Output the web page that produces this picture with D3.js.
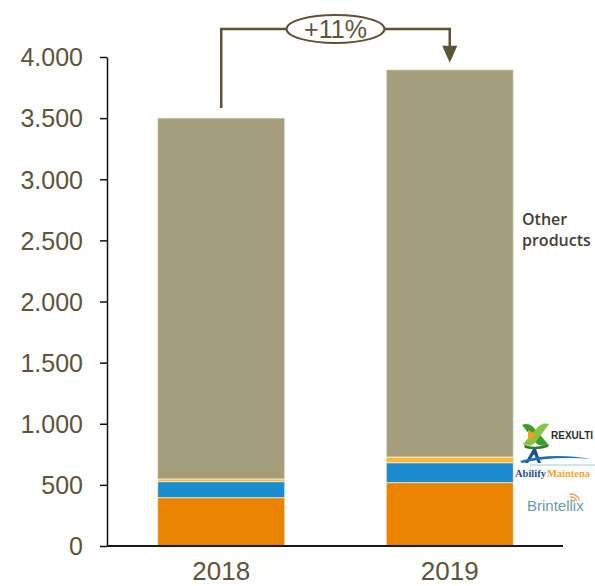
<!DOCTYPE html>
<html>
<head>
<meta charset="utf-8">
<script src="https://cdn.jsdelivr.net/npm/d3@7"></script>
<style>
  html, body { margin: 0; padding: 0; background: #fff; }
  svg { display: block; }
</style>
</head>
<body>
<svg id="chart" width="595" height="586"></svg>
<script>
// Sales by year, stacked by product (bottom to top)
const years = ["2018", "2019"];
const brintellix = [395, 518];
const abilifyMaintena = [131, 163];
const rexulti = [22, 47];
const otherProducts = [2953, 3167];
const yTicks = [0, 500, 1000, 1500, 2000, 2500, 3000, 3500, 4000];
const growthLabel = "+11%";

const seriesKeys = ["brintellix", "abilify", "rexulti", "other"];
const seriesColors = {
  brintellix: "#EA8400",
  abilify: "#1B8DCF",
  rexulti: "#FBB832",
  other: "#A59E7C"
};

const rows = years.map((y, i) => ({
  year: y,
  brintellix: brintellix[i],
  abilify: abilifyMaintena[i],
  rexulti: rexulti[i],
  other: otherProducts[i]
}));

const svg = d3.select("#chart");
const textColor = "#5E5439";
const lineColor = "#5C5236";

const x = d3.scaleBand()
  .domain(years)
  .range([107, 564])
  .paddingInner(0.444)
  .paddingOuter(0.222);

const y = d3.scaleLinear()
  .domain([0, 4000])
  .range([546, 57]);

const locale = d3.formatLocale({ decimal: ",", thousands: ".", grouping: [3], currency: ["", ""] });
const fmt = locale.format(",d");

// Stacked bars
const stacked = d3.stack().keys(seriesKeys)(rows);
svg.append("g")
  .selectAll("g")
  .data(stacked)
  .join("g")
  .attr("fill", d => seriesColors[d.key])
  .selectAll("rect")
  .data(d => d)
  .join("rect")
  .attr("x", d => x(d.data.year))
  .attr("width", x.bandwidth())
  .attr("y", d => y(d[1]))
  .attr("height", d => y(d[0]) - y(d[1]))
  .attr("stroke", "#f2ecdc")
  .attr("stroke-width", 0.8);

// Y axis
const yAxis = svg.append("g")
  .attr("transform", "translate(107,0)")
  .call(d3.axisLeft(y).tickValues(yTicks).tickFormat(fmt).tickSizeInner(7).tickSizeOuter(0).tickPadding(17));
yAxis.select(".domain").attr("stroke", "#111").attr("stroke-width", 1.5);
yAxis.selectAll(".tick line").attr("stroke", "#111").attr("stroke-width", 1.5);
yAxis.selectAll(".tick text")
  .attr("fill", textColor)
  .attr("font-family", "Liberation Sans, Arial, sans-serif")
  .attr("font-size", 25)
  .attr("dy", "0.35em");

// X baseline
svg.append("line")
  .attr("x1", 107).attr("x2", 563)
  .attr("y1", y(0)).attr("y2", y(0))
  .attr("stroke", "#1a1a1a")
  .attr("stroke-width", 2);

// X labels
svg.append("g")
  .selectAll("text")
  .data(years)
  .join("text")
  .attr("x", d => x(d) + x.bandwidth() / 2)
  .attr("y", 580)
  .attr("text-anchor", "middle")
  .attr("fill", textColor)
  .attr("font-family", "Liberation Sans, Arial, sans-serif")
  .attr("font-size", 26)
  .text(d => d);

// Growth annotation between the two totals
const total = rows.map(r => seriesKeys.reduce((s, k) => s + r[k], 0));
const cx0 = x(years[0]) + x.bandwidth() / 2;
const cx1 = x(years[1]) + x.bandwidth() / 2;
const ay = 29;
const mid = (cx0 + cx1) / 2;
const rx = 49, ry = 14;
const tipY = y(total[1]) - 7;

svg.append("path")
  .attr("d", `M${cx0},${y(total[0]) - 10} V${ay} H${mid - rx}`)
  .attr("fill", "none").attr("stroke", lineColor).attr("stroke-width", 2.5);
svg.append("path")
  .attr("d", `M${mid + rx},${ay} H${cx1} V${tipY - 14}`)
  .attr("fill", "none").attr("stroke", lineColor).attr("stroke-width", 2.5);
svg.append("path")
  .attr("d", `M${cx1 - 7.5},${tipY - 17} L${cx1 + 7.5},${tipY - 17} L${cx1},${tipY} Z`)
  .attr("fill", lineColor);
svg.append("ellipse")
  .attr("cx", mid).attr("cy", ay)
  .attr("rx", rx).attr("ry", ry)
  .attr("fill", "#fff").attr("stroke", lineColor).attr("stroke-width", 2);
svg.append("text")
  .attr("x", mid).attr("y", ay + 9)
  .attr("text-anchor", "middle")
  .attr("fill", textColor)
  .attr("font-family", "Liberation Sans, Arial, sans-serif")
  .attr("font-size", 25)
  .text(growthLabel);

// Series labels on the right
const lab = svg.append("g").attr("font-family", "'Open Sans', Lato, sans-serif").attr("font-weight", 600);
lab.append("text").attr("x", 522).attr("y", 225)
  .attr("fill", "#3f3f36").attr("font-size", 16).text("Other");
lab.append("text").attr("x", 522).attr("y", 246)
  .attr("fill", "#3f3f36").attr("font-size", 16).text("products");

// REXULTI mark
const rex = svg.append("g").attr("transform", "translate(521,422)");
rex.append("path")
  .attr("d", "M1,3 Q8,0 13,6 L27,22 Q20,26 15,21 Z")
  .attr("fill", "#3f9b2c");
rex.append("path")
  .attr("d", "M28,2 Q21,0 16,6 L2,22 Q9,26 14,21 Z")
  .attr("fill", "#86c441");
rex.append("path")
  .attr("d", "M7,8 L16,13 L7,18 Z")
  .attr("fill", "#f0a020");
rex.append("path")
  .attr("d", "M3,23 Q15,27 28,22 L27,25 Q15,29 4,26 Z")
  .attr("fill", "#2e7d24");
svg.append("text")
  .attr("x", 551).attr("y", 439)
  .attr("font-family", "Liberation Sans, Arial, sans-serif")
  .attr("font-weight", "bold")
  .attr("font-size", 10)
  .attr("fill", "#2d2d2d")
  .text("REXULTI");

// Abilify Maintena mark
const ab = svg.append("g");
ab.append("path")
  .attr("d", "M525,463 L533,449 L536,449 L541,463 L538,463 L534,454 L528,463 Z")
  .attr("fill", "#1d4f9c");
ab.append("path")
  .attr("d", "M520,461 Q550,452 592,459 Q552,456 522,463 Z")
  .attr("fill", "#1d6fb8");
ab.append("line")
  .attr("x1", 530).attr("x2", 595).attr("y1", 465).attr("y2", 465)
  .attr("stroke", "#9ccbe8").attr("stroke-width", 1);
const abText = ab.append("text")
  .attr("x", 515).attr("y", 477)
  .attr("font-family", "Liberation Serif, serif")
  .attr("font-weight", "bold")
  .attr("font-size", 10.5);
abText.append("tspan").attr("fill", "#1d4f9c").text("Abilify");
abText.append("tspan").attr("fill", "#f2a531").attr("dx", 1).text("Maintena");

// Brintellix mark
svg.append("text")
  .attr("x", 527).attr("y", 511)
  .attr("font-family", "Liberation Sans, Arial, sans-serif")
  .attr("font-size", 15)
  .attr("fill", "#6a9ba6")
  .text("Brintellix");
const wifi = svg.append("g").attr("fill", "none").attr("stroke", "#f0a060").attr("stroke-width", 1.3);
[3, 6, 9].forEach(r => {
  wifi.append("path")
    .attr("d", d3.arc()({ innerRadius: r, outerRadius: r, startAngle: -0.2, endAngle: 1.3 }))
    .attr("transform", "translate(571,503)");
});
</script>
</body>
</html>
